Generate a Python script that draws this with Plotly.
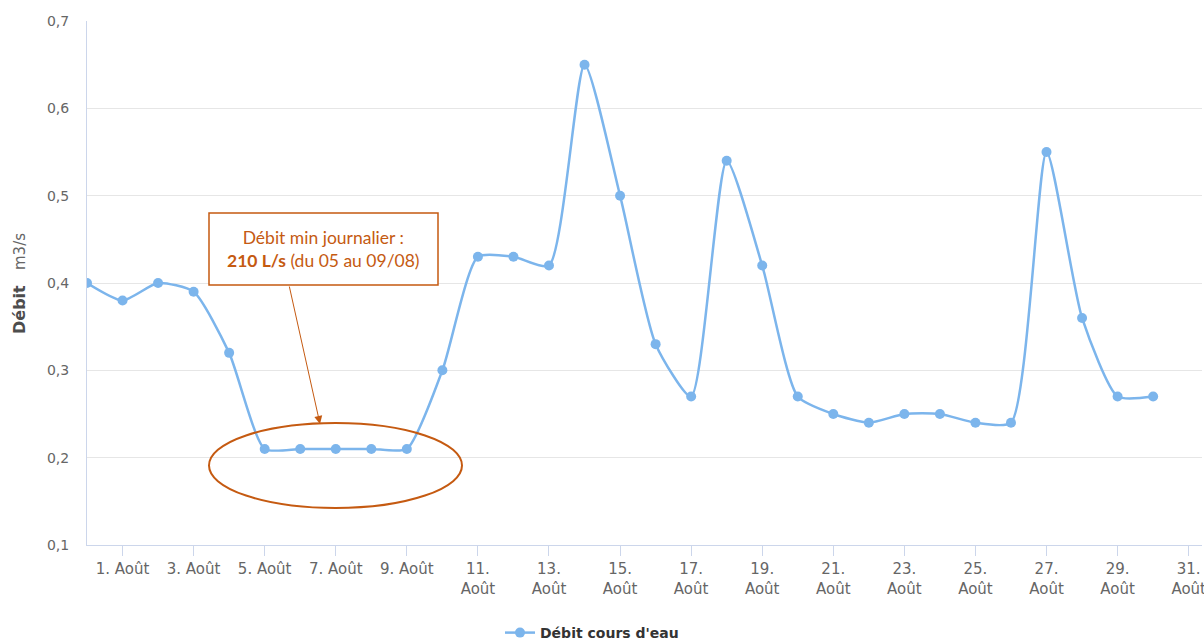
import plotly.graph_objects as go

# ---- data ----
dates = ["2016-07-31", "2016-08-01", "2016-08-02", "2016-08-03", "2016-08-04",
         "2016-08-05", "2016-08-06", "2016-08-07", "2016-08-08", "2016-08-09",
         "2016-08-10", "2016-08-11", "2016-08-12", "2016-08-13", "2016-08-14",
         "2016-08-15", "2016-08-16", "2016-08-17", "2016-08-18", "2016-08-19",
         "2016-08-20", "2016-08-21", "2016-08-22", "2016-08-23", "2016-08-24",
         "2016-08-25", "2016-08-26", "2016-08-27", "2016-08-28", "2016-08-29",
         "2016-08-30"]
debit = [0.40, 0.38, 0.40, 0.39, 0.32,
         0.21, 0.21, 0.21, 0.21, 0.21,
         0.30, 0.43, 0.43, 0.42, 0.65,
         0.50, 0.33, 0.27, 0.54, 0.42,
         0.27, 0.25, 0.24, 0.25, 0.25,
         0.24, 0.24, 0.55, 0.36, 0.27,
         0.27]
tick_dates = ["2016-08-01", "2016-08-03", "2016-08-05", "2016-08-07", "2016-08-09",
              "2016-08-11", "2016-08-13", "2016-08-15", "2016-08-17", "2016-08-19",
              "2016-08-21", "2016-08-23", "2016-08-25", "2016-08-27", "2016-08-29",
              "2016-08-31"]
tick_text = ["1. Août", "3. Août", "5. Août", "7. Août", "9. Août",
             "11.<br>Août", "13.<br>Août", "15.<br>Août", "17.<br>Août", "19.<br>Août",
             "21.<br>Août", "23.<br>Août", "25.<br>Août", "27.<br>Août", "29.<br>Août",
             "31.<br>Août"]
y_ticks = [0.1, 0.2, 0.3, 0.4, 0.5, 0.6, 0.7]
series_name = "Débit cours d'eau"

BLUE = "#7cb5ec"
ORANGE = "#c55a11"
AXIS = "#ccd6eb"

fig = go.Figure()
fig.add_trace(go.Scatter(
    x=dates, y=debit, name="<b>" + series_name + "</b>", mode="lines+markers",
    line=dict(color=BLUE, width=2.5, shape="spline", smoothing=0.6),
    marker=dict(color=BLUE, size=10),
    showlegend=True,
))

W, H = 1204, 641
L, T, R, B = 87, 21, 2, 96
pw, ph = W - L - R, H - T - B

def px(x):  # screen px -> paper
    return (x - L) / pw

def py(y):
    return (H - B - y) / ph

# ellipse
fig.add_shape(type="circle", xref="paper", yref="paper",
              x0=px(209), x1=px(462), y0=py(508), y1=py(423),
              line=dict(color=ORANGE, width=2))
# box
fig.add_shape(type="rect", xref="paper", yref="paper",
              x0=px(209), x1=px(438), y0=py(285), y1=py(213),
              line=dict(color=ORANGE, width=1.5), fillcolor="white")
fig.add_annotation(xref="paper", yref="paper", x=px(323.5), y=py(249),
                   xanchor="center", yanchor="middle",
                   text="Débit min journalier :<br><b>210 L/s</b> (du 05 au 09/08)",
                   showarrow=False, align="center",
                   font=dict(family="Lato", size=17.5, color=ORANGE))
# arrow
fig.add_annotation(xref="paper", yref="paper", x=px(320), y=py(424),
                   ax=289 - 320, ay=285 - 424, text="", showarrow=True,
                   arrowhead=2, arrowsize=1.6, arrowwidth=1, arrowcolor=ORANGE)
# y-axis title
fig.add_annotation(xref="paper", yref="paper", x=px(19), y=py(284),
                   xanchor="center", yanchor="middle",
                   text="<b>Débit</b>   <span style='font-size:15px;color:#666666'>m3/s</span>",
                   textangle=-90, showarrow=False,
                   font=dict(family="DejaVu Sans", size=16, color="#4d4d4d"))

fig.update_layout(
    width=W, height=H,
    margin=dict(l=L, r=R, t=T, b=B, autoexpand=False),
    plot_bgcolor="white", paper_bgcolor="white",
    separators=",.",
    font=dict(family="DejaVu Sans", size=13, color="#666666"),
    xaxis=dict(
        type="date", range=["2016-07-31", "2016-08-31 09:00"],
        tickmode="array", tickvals=tick_dates, ticktext=tick_text,
        showgrid=False, showline=True, linecolor=AXIS, linewidth=1,
        ticks="outside", ticklen=10, tickcolor=AXIS,
        tickfont=dict(size=15, color="#666666"), zeroline=False,
        automargin=False, ticklabeloverflow="allow",
    ),
    yaxis=dict(
        range=[0.1, 0.7], tickmode="array", tickvals=y_ticks, tickformat=".1f",
        showgrid=True, gridcolor="#e6e6e6", showline=True, linecolor=AXIS,
        tickfont=dict(size=14, color="#666666"), zeroline=False, ticks="",
        ticklabelstandoff=14, automargin=False,
    ),
    legend=dict(orientation="h", xref="container", x=592 / W, xanchor="center",
                yref="container", y=(H - 633) / H, yanchor="middle",
                font=dict(size=14, color="#333333", family="DejaVu Sans"),
                itemwidth=30),
)

fig.write_html("out.html", config={"displayModeBar": False},
               post_script="document.body.style.margin='0';document.body.style.overflow='hidden';")
